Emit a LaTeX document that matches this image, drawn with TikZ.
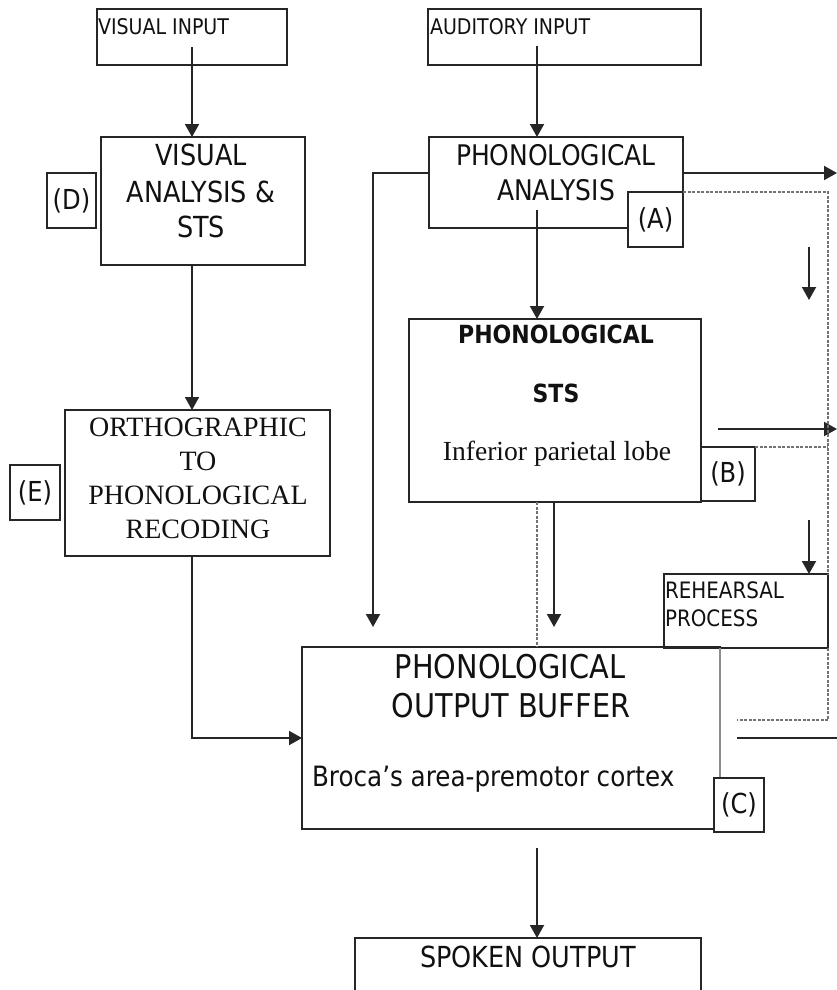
\documentclass[tikz,border=0pt]{standalone}
\usepackage{fontspec}
\setmainfont{DejaVu Sans}[FakeStretch=0.88]
\newfontfamily\tnr{Liberation Serif}
\usetikzlibrary{arrows.meta}
\definecolor{linec}{HTML}{262626}
\definecolor{textc}{HTML}{111111}
\begin{document}
\begin{tikzpicture}[x=1pt,y=-1pt,
 box/.style={draw=linec, line width=2pt, inner sep=0pt, outer sep=0pt, anchor=north west},
 lbl/.style={box, fill=white, text=textc, font=\fontsize{27.5}{30}\selectfont},
 txt/.style={inner sep=0pt, outer sep=0pt, anchor=base, text=textc},
 arr/.style={draw=linec, line width=2pt, -{Triangle[width=14pt,length=13pt]}},
 ln/.style={draw=linec, line width=2pt},
 dsh/.style={draw=black!55, line width=1.3pt, dash pattern=on 3pt off 1.5pt},
 sa/.style={font=\fontsize{29}{32}\selectfont},
 sb/.style={font=\fontsize{32.7}{36}\selectfont},
 sr/.style={font=\tnr\fontsize{28}{30}\selectfont},
]
\useasboundingbox (0,0) rectangle (837,990);
\clip (0,0) rectangle (837,990);

% boxes
\node[box, minimum width=190pt, minimum height=56pt] (vin) at (97,9) {};
\node[box, minimum width=273pt, minimum height=56pt] (ain) at (428,9) {};
\node[box, minimum width=204pt, minimum height=128pt] (van) at (101,137) {};
\node[box, minimum width=265pt, minimum height=146pt] (ortho) at (65,410) {};
\node[box, minimum width=254pt, minimum height=91pt] (pan) at (429,137) {};
\node[box, minimum width=292pt, minimum height=183pt] (sts) at (409,319) {};
\node[box, minimum width=164pt, minimum height=74pt] (reh) at (664,574) {};
\node[box, minimum width=418pt, minimum height=182pt] (buf) at (302,647) {};
\node[box, minimum width=346pt, minimum height=90pt] (spk) at (355,938) {};

% texts
\node[txt, anchor=base west, font=\fontsize{21.6}{24}\selectfont] (tvin) at (98,35) {VISUAL INPUT};
\node[txt, anchor=base west, font=\fontsize{21.6}{24}\selectfont] (tain) at (430,35) {AUDITORY INPUT};
\node[txt, sa] (tvan1) at (201,165) {VISUAL};
\node[txt, sa] (tvan2) at (201,202) {ANALYSIS \&};
\node[txt, sa] (tvan3) at (201,237) {STS};
\node[txt, sr] (tor1) at (198,436) {ORTHOGRAPHIC};
\node[txt, sr] (tor2) at (198,470) {TO};
\node[txt, sr] (tor3) at (198,504) {PHONOLOGICAL};
\node[txt, sr] (tor4) at (198,538) {RECODING};
\node[txt, font=\fontsize{28.4}{32}\selectfont] (tpan1) at (556,165) {PHONOLOGICAL};
\node[txt, font=\fontsize{28.4}{32}\selectfont] (tpan2) at (556,200) {ANALYSIS};
\node[txt, font=\bfseries\fontsize{25}{28}\selectfont] (tsts1) at (556,343) {PHONOLOGICAL};
\node[txt, font=\bfseries\fontsize{25}{28}\selectfont] (tsts2) at (556,402) {STS};
\node[txt, font=\tnr\fontsize{27.6}{30}\selectfont] (tsts3) at (557,460) {Inferior parietal lobe};
\node[txt, anchor=base west, font=\fontsize{22.6}{26}\selectfont] (treh1) at (665,598) {REHEARSAL};
\node[txt, anchor=base west, font=\fontsize{22.6}{26}\selectfont] (treh2) at (665,626) {PROCESS};
\node[txt, sb] (tbuf1) at (510,678) {PHONOLOGICAL};
\node[txt, sb] (tbuf2) at (511,717) {OUTPUT BUFFER};
\node[txt, anchor=base west, font=\fontsize{28}{30}\selectfont] (tbuf3) at (312,786) {Broca’s area-premotor cortex};
\node[txt, font=\fontsize{29}{32}\selectfont] (tspk) at (528,967) {SPOKEN OUTPUT};

% free ends
\coordinate (e1) at (837,173);
\coordinate (e2a) at (718,429);
\coordinate (e2) at (837,429);
\coordinate (s1) at (809,247);
\coordinate (s1e) at (809,300);
\coordinate (s2) at (809,520);
\coordinate (d3) at (737,720);
\coordinate (l4a) at (737,738);
\coordinate (l4) at (837,738);

% connectors
\draw[arr] ([yshift=18pt]vin.south) -- (van.north -| vin.south);
\draw[arr] ([xshift=-27.5pt,yshift=19pt]ain.south) -- ([xshift=-19pt]pan.north);
\draw[arr] ([xshift=-11pt]van.south) -- ([xshift=-5.5pt]ortho.north);
\draw[arr] ([xshift=-5.5pt]ortho.south) |- (buf.west);
\draw[arr] ([yshift=9.5pt]pan.west) -| ([xshift=-138pt,yshift=20pt]buf.north);
\draw[arr] ([xshift=-19pt,yshift=18pt]pan.south) -- ([xshift=-18pt]sts.north);
\draw[arr] ([yshift=9.5pt]pan.east) -- (e1);
\draw[arr] (e2a) -- (e2);
\draw[arr] (s1) -- (s1e);
\draw[arr] (s2) -- ([xshift=63pt]reh.north);
\draw[dsh] ([xshift=-18pt]sts.south) -- ([xshift=26pt]buf.north);
\draw[arr] ([xshift=-1pt]sts.south) -- ([xshift=43pt,yshift=20pt]buf.north);
\draw[arr] ([xshift=26pt,yshift=-19pt]buf.south) -- ([xshift=9pt]spk.north);
\draw[ln] (l4a) -- (l4);

% label boxes
\node[lbl, minimum width=49pt, minimum height=55pt] (D) at (47,173) {(D)};
\node[lbl, minimum width=50pt, minimum height=55pt] (E) at (10,465) {(E)};
\node[lbl, minimum width=55pt, minimum height=55pt] (A) at (628,192) {(A)};
\node[lbl, minimum width=54pt, minimum height=54pt] (B) at (701,447) {(B)};
\draw[draw=black!45, line width=2.2pt] ([xshift=-26pt]reh.south) -- (720,778);
\node[lbl, minimum width=50pt, minimum height=54pt] (C) at (714,778) {(C)};

% dashed feedback lines
\draw[dsh] (A.north east) -- (A.north east -| reh.north east) -- (reh.north east);
\draw[dsh] (B.north east) -- (B.north east -| reh.north east);
\draw[dsh] (reh.south east) -- (reh.south east |- d3) -- (d3);
\end{tikzpicture}
\end{document}
